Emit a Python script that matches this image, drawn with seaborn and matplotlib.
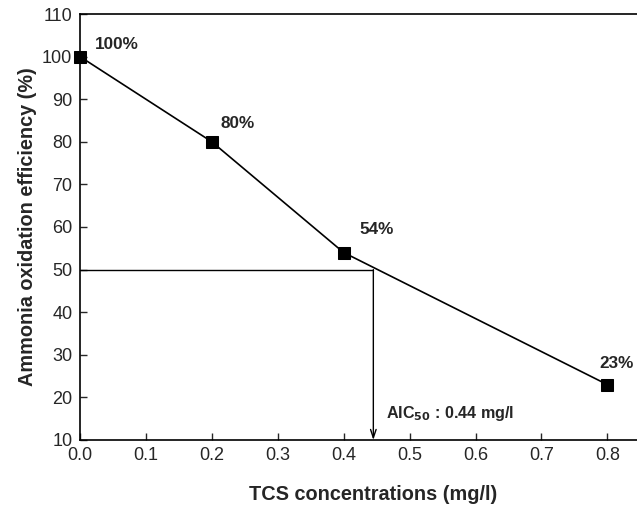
import matplotlib
matplotlib.use("Agg")
import matplotlib.pyplot as plt
import seaborn as sns
import pandas as pd

tcs = [0.0, 0.2, 0.4, 0.8]
efficiency = [100, 80, 54, 23]
labels = ["100%", "80%", "54%", "23%"]
aic50 = 0.445

sns.set_style("ticks")
plt.rcParams['font.family'] = ['Liberation Sans', 'DejaVu Sans']

fig = plt.figure(figsize=(6.37, 5.08), dpi=100)
ax = fig.add_axes([0.1256, 0.1339, 0.8744, 0.8385])

df = pd.DataFrame({"x": tcs, "y": efficiency})
sns.lineplot(data=df, x="x", y="y", ax=ax, color="black", lw=1.2,
             marker="s", markersize=8, markeredgecolor="black", markerfacecolor="black",
             clip_on=False, zorder=5)

offsets = [(0.023, 2.8), (0.0137, 4.4), (0.024, 5.4), (-0.0117, 5.0)]
for xv, yv, lab, (dx, dy) in zip(tcs, efficiency, labels, offsets):
    ax.text(xv + dx, yv + dy, lab, fontsize=12.3, fontweight="bold", ha="left", va="center")

ax.plot([0, aic50], [50, 50], color="black", lw=1)
ax.annotate("", xy=(aic50, 10), xytext=(aic50, 50),
            arrowprops=dict(arrowstyle="->,head_length=0.6,head_width=0.2", color="black",
                            lw=1, shrinkA=0, shrinkB=0))
ax.text(aic50 + 0.019, 16.3, r"AIC$_{\mathbf{50}}$ : 0.44 mg/l", fontsize=11.6, fontweight="bold",
        ha="left", va="center")

ax.set_xlim(0, 0.845)
ax.set_ylim(10, 110)
ax.set_xticks([0.0, 0.1, 0.2, 0.3, 0.4, 0.5, 0.6, 0.7, 0.8])
ax.set_xticklabels([f"{v:.1f}" for v in ax.get_xticks()])
ax.set_yticks(range(10, 111, 10))
ax.tick_params(direction="in", length=5, labelsize=13, width=1)
ax.tick_params(axis="x", pad=5)
ax.tick_params(axis="y", pad=5.5)
ax.spines["right"].set_visible(False)
for s in ["left", "bottom", "top"]:
    ax.spines[s].set_linewidth(1.2)
    ax.spines[s].set_color("black")

ax.set_xlabel("TCS concentrations (mg/l)", fontsize=14.3, fontweight="bold", labelpad=15)
ax.set_ylabel("Ammonia oxidation efficiency (%)", fontsize=14.3, fontweight="bold", labelpad=4)
ax.xaxis.set_label_coords(0.526, -0.106)

fig.savefig("out.png", dpi=100)
